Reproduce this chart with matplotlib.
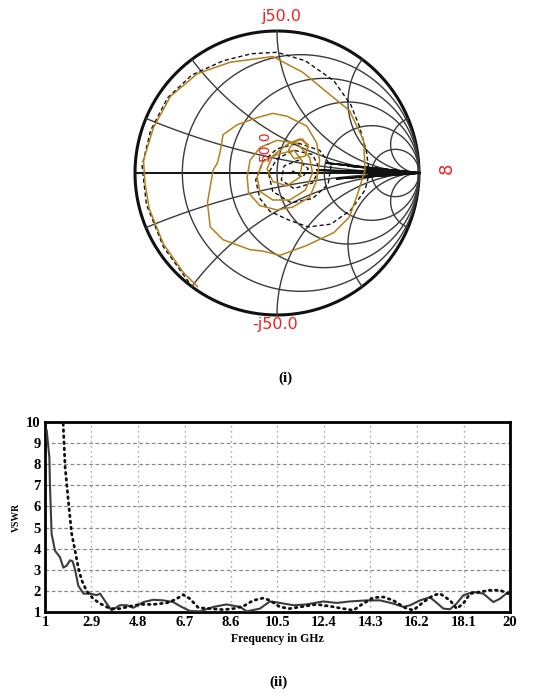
import numpy as np
import matplotlib
matplotlib.use("Agg")
import matplotlib.pyplot as plt

# ---------------- data ----------------
# Smith chart traces (reflection coefficient, real / imag parts)
orange_re = [-0.56, -0.66, -0.80, -0.90, -0.93, -0.94, -0.87, -0.75, -0.56, -0.33, -0.03, 0.18, 0.35,
             0.51, 0.61, 0.62, 0.57, 0.51, 0.40, 0.21, 0.02, -0.10, -0.19, -0.38, -0.47, -0.49, -0.45,
             -0.42, -0.40, -0.38, -0.28, -0.14, -0.03, 0.07, 0.21, 0.28, 0.30, 0.28, 0.23, 0.11, 0.00,
             -0.12, -0.20, -0.21, -0.19, -0.12, 0.00, 0.14, 0.23, 0.25, 0.20, 0.09, -0.03, -0.12, -0.14,
             -0.10, 0.00, 0.12, 0.18, 0.16, 0.07, -0.03, -0.07, -0.03, 0.07, 0.16, 0.22, 0.20, 0.12,
             0.08, 0.12, 0.18, 0.22]
orange_im = [-0.80, -0.70, -0.50, -0.25, -0.07, 0.09, 0.32, 0.54, 0.70, 0.78, 0.82, 0.71, 0.57,
             0.44, 0.23, 0.02, -0.14, -0.31, -0.42, -0.51, -0.58, -0.55, -0.54, -0.47, -0.38, -0.21, 0.02,
             0.07, 0.15, 0.27, 0.34, 0.39, 0.42, 0.40, 0.33, 0.21, 0.09, -0.05, -0.17, -0.24, -0.26,
             -0.23, -0.14, -0.03, 0.09, 0.18, 0.23, 0.21, 0.11, 0.00, -0.12, -0.19, -0.19, -0.13, -0.03,
             0.08, 0.13, 0.16, 0.08, -0.03, -0.09, -0.06, 0.03, 0.12, 0.20, 0.24, 0.20, 0.12, 0.10,
             0.16, 0.22, 0.24, 0.18]

dashed_re = [-0.62, -0.80, -0.92, -0.95, -0.89, -0.77, -0.60, -0.38, -0.18, 0.00, 0.20, 0.40, 0.52,
             0.58, 0.63, 0.65, 0.62, 0.52, 0.38, 0.22, 0.08, -0.05, -0.12, -0.15, -0.10, 0.00, 0.15,
             0.30, 0.38, 0.36, 0.25, 0.10, -0.03, -0.06, 0.00, 0.12, 0.25, 0.30, 0.25, 0.12, 0.03,
             0.05, 0.15, 0.22, 0.18, 0.10]
dashed_im = [-0.77, -0.52, -0.22, 0.05, 0.30, 0.53, 0.69, 0.79, 0.84, 0.85, 0.79, 0.65, 0.48,
             0.33, 0.15, 0.00, -0.12, -0.26, -0.36, -0.38, -0.33, -0.27, -0.18, -0.05, 0.08, 0.17, 0.21,
             0.16, 0.05, -0.08, -0.18, -0.21, -0.13, 0.00, 0.10, 0.16, 0.13, 0.03, -0.07, -0.11, -0.05,
             0.05, 0.09, 0.03, -0.03, 0.02]

fan_re = [1.00, 0.62, 1.00, 0.58, 1.00, 0.50, 1.00, 0.42, 1.00, 0.35, 1.00, 0.28, 1.00, 0.65, 1.00, 0.55, 1.00]
fan_im = [0.00, 0.03, 0.00, -0.03, 0.00, 0.05, 0.00, -0.04, 0.00, 0.07, 0.00, 0.02, 0.00, -0.01, 0.00, 0.015, 0.00]

# VSWR vs frequency
freq_solid = [1.07, 1.18, 1.20, 1.27, 1.41, 1.61, 1.75, 1.89, 2.02, 2.13, 2.23, 2.36, 2.57, 2.84, 3.11,
              3.25, 3.52, 3.72, 4.06, 4.34, 4.61, 5.02, 5.43, 5.84, 6.24, 6.58, 6.92, 7.33, 7.88, 8.42,
              8.97, 9.24, 9.78, 10.19, 10.60, 11.15, 11.69, 12.37, 12.92, 13.46, 14.14, 14.69, 15.23,
              15.64, 15.92, 16.32, 16.73, 17.00, 17.28, 17.55, 17.82, 18.09, 18.50, 18.91, 19.32,
              19.59, 19.93]
vswr_solid = [9.6, 8.3, 7.1, 4.7, 3.9, 3.6, 3.1, 3.2, 3.45, 3.4, 3.0, 2.25, 1.87, 1.87, 1.8,
              1.87, 1.4, 1.08, 1.32, 1.32, 1.2, 1.47, 1.58, 1.55, 1.47, 1.24, 1.05, 1.03, 1.24, 1.36,
              1.24, 1.03, 1.16, 1.5, 1.43, 1.32, 1.36, 1.5, 1.43, 1.5, 1.55, 1.55, 1.4,
              1.24, 1.32, 1.55, 1.7, 1.44, 1.16, 1.13, 1.4, 1.79, 1.95, 1.87, 1.47,
              1.63, 1.95]

freq_dot = [1.72, 1.82, 1.95, 2.09, 2.23, 2.36, 2.50, 2.70, 2.97, 3.25, 3.66, 4.06, 4.47, 4.88, 5.43,
            5.97, 6.31, 6.65, 6.92, 7.27, 7.74, 8.29, 8.70, 9.10, 9.51, 9.92, 10.19, 10.60, 11.00,
            11.42, 12.10, 12.65, 13.19, 13.60, 14.00, 14.42, 14.83, 15.23, 15.71, 16.05, 16.46,
            16.87, 17.14, 17.55, 17.82, 18.09, 18.37, 18.77, 19.18, 19.59, 19.93]
vswr_dot = [10.5, 7.9, 6.3, 4.7, 3.9, 3.1, 2.5, 2.0, 1.63, 1.4, 1.16, 1.16, 1.27, 1.36, 1.36,
            1.43, 1.58, 1.82, 1.63, 1.2, 1.16, 1.11, 1.16, 1.27, 1.55, 1.66, 1.55, 1.24, 1.16,
            1.24, 1.36, 1.27, 1.16, 1.08, 1.4, 1.68, 1.71, 1.55, 1.2, 1.08, 1.47,
            1.79, 1.87, 1.55, 1.16, 1.4, 1.87, 1.95, 2.03, 2.03, 1.87]

x_ticks = [1, 2.9, 4.8, 6.7, 8.6, 10.5, 12.4, 14.3, 16.2, 18.1, 20]
x_tick_labels = ["1", "2.9", "4.8", "6.7", "8.6", "10.5", "12.4", "14.3", "16.2", "18.1", "20"]
y_ticks = [1, 2, 3, 4, 5, 6, 7, 8, 9, 10]

r_circles = [0.2, 0.5, 1, 2, 5]
x_arcs = [0.2, 0.5, 1, 2, 5]

# ---------------- figure ----------------
W, H = 555, 697
fig = plt.figure(figsize=(W / 100, H / 100), dpi=100)
fig.patch.set_facecolor("white")

def fx(px):
    return px / W

def fy(py):
    return 1 - py / H

# Smith chart axes: circle centre (277,173), radius 142 px
cx, cy, R = 277, 173, 142
ax1 = fig.add_axes([fx(cx - R), fy(cy + R), 2 * R / W, 2 * R / H])
ax1.set_xlim(-1, 1)
ax1.set_ylim(-1, 1)
ax1.axis("off")

gcol = "#3a3a3a"
t = np.linspace(0, 2 * np.pi, 400)
ax1.plot(np.cos(t), np.sin(t), color="#111111", lw=2.2, clip_on=False)
ax1.plot([-1, 1], [0, 0], color="#111111", lw=1.4, clip_on=False)
for r in r_circles:
    c, rad = r / (1 + r), 1 / (1 + r)
    ax1.plot(c + rad * np.cos(t), rad * np.sin(t), color=gcol, lw=1.0, clip_on=False)
rr = np.concatenate([[0], np.logspace(-3, 4, 600)])
for xv in x_arcs:
    for s in (1, -1):
        z = rr + 1j * s * xv
        g = (z - 1) / (z + 1)
        ax1.plot(g.real, g.imag, color=gcol, lw=1.0, clip_on=False)

ax1.plot(fan_re, fan_im, color="#111111", lw=1.3, clip_on=False)
ax1.plot(dashed_re, dashed_im, color="#111111", lw=1.0, ls=(0, (3, 2)), clip_on=False)
ax1.plot(orange_re, orange_im, color="#b5801c", lw=1.1, clip_on=False)

red = "#ee2222"
fig.text(fx(281), fy(17), "j50.0", color=red, fontsize=11.5, ha="center", va="center", family="DejaVu Sans")
fig.text(fx(275), fy(324), "-j50.0", color=red, fontsize=11.5, ha="center", va="center", family="DejaVu Sans")
fig.text(fx(447), fy(168), "8", color=red, fontsize=13, ha="center", va="center", rotation=90,
         family="DejaVu Sans")
fig.text(fx(265), fy(146), "50.0", color=red, fontsize=10, ha="center", va="center", rotation=90,
         family="DejaVu Sans")

serif = "Liberation Serif"
fig.text(fx(285), fy(378), "(i)", fontsize=11, fontweight="bold", family=serif, ha="center", va="center")
fig.text(fx(278), fy(682), "(ii)", fontsize=11, fontweight="bold", family=serif, ha="center", va="center")

# VSWR axes
L, Rt, T, B = 45, 510, 422, 612
ax2 = fig.add_axes([fx(L), fy(B), (Rt - L) / W, (B - T) / H])
ax2.set_xlim(1, 20)
ax2.set_ylim(1, 10)
for yv in y_ticks[1:-1]:
    ax2.axhline(yv, color="#8a8a8a", lw=0.9, ls=(0, (3, 2)), zorder=1)
for xv in x_ticks[1:-1]:
    ax2.axvline(xv, color="#8a8a8a", lw=0.9, ls=(0, (1, 3)), zorder=1)
ax2.plot(freq_solid, vswr_solid, color="#3c3c3c", lw=1.5, zorder=3)
ax2.plot(freq_dot, vswr_dot, color="#111111", lw=2.0, ls=(0, (0.6, 1.6)), dash_capstyle="round", zorder=3)
for sp in ax2.spines.values():
    sp.set_linewidth(2.0)
ax2.set_xticks(x_ticks)
ax2.set_xticklabels(x_tick_labels)
ax2.set_yticks(y_ticks)
ax2.tick_params(length=0, pad=3)
for lab in ax2.get_xticklabels() + ax2.get_yticklabels():
    lab.set_family(serif)
    lab.set_fontweight("bold")
    lab.set_fontsize(10.5)
ax2.set_xlabel("Frequency in GHz", fontsize=8.5, fontweight="bold", family=serif, labelpad=3)
ax2.set_ylabel("VSWR", fontsize=7, fontweight="bold", family=serif, labelpad=4)

fig.savefig("out.png", dpi=100, facecolor="white")
